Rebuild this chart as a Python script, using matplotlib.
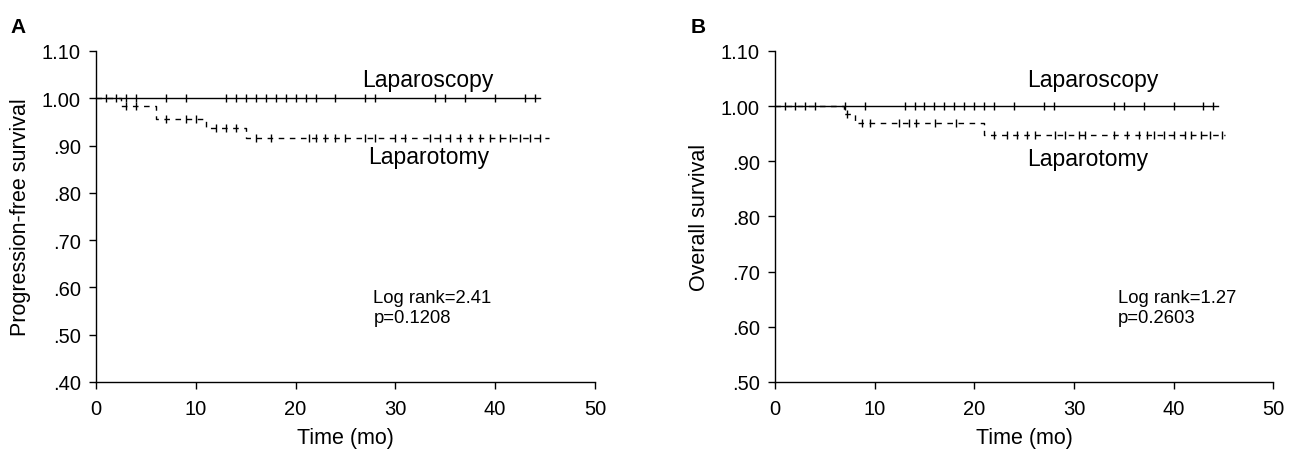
import numpy as np
import matplotlib
matplotlib.use("Agg")
import matplotlib.pyplot as plt

plt.rcParams['font.family'] = ['Liberation Sans', 'DejaVu Sans']

# ---------------- data ----------------
# Panel A: progression-free survival
A_scopy_censor = [1, 2, 3, 4, 7, 9, 13, 14, 15, 16, 17, 18, 19, 20, 21, 22, 24,
                  27, 28, 34, 35, 37, 40, 43, 44]
A_scopy_end = 44.5
A_tomy_step_t = [0, 2.5, 6, 11, 15]
A_tomy_step_s = [1.0, 0.984, 0.957, 0.938, 0.917]
A_tomy_censor = [3, 4, 7, 9, 10, 12, 13, 14, 16, 17.5, 21.3, 22, 23, 24, 25, 27,
                 28, 30, 31, 33.5, 34.5, 35.5, 36.5, 37.5, 38.5, 39.5, 40.5,
                 41.5, 42.5, 43.5, 44.5]
A_tomy_end = 45.4
A_logrank = "Log rank=2.41\np=0.1208"

# Panel B: overall survival
B_scopy_censor = [1, 2, 3, 4, 7, 9, 13, 14, 15, 16, 17, 18, 19, 20, 21, 22, 24,
                  27, 28, 34, 35, 37, 40, 43, 44]
B_scopy_end = 44.5
B_tomy_step_t = [0, 6.9, 8, 21]
B_tomy_step_s = [1.0, 0.985, 0.969, 0.948]
B_tomy_censor = [7.2, 8.7, 9.5, 12.4, 13.4, 14.1, 16.1, 18.2, 22, 23.3, 24.3,
                 25.3, 26.1, 28.1, 29.1, 30.5, 31.1, 34, 35.3, 36.5, 37.3, 38,
                 39, 40, 41.2, 41.8, 42.8, 43.7, 44.9]
B_tomy_end = 45.2
B_logrank = "Log rank=1.27\np=0.2603"

x_ticks = [0, 10, 20, 30, 40, 50]
A_yticks = [0.40, 0.50, 0.60, 0.70, 0.80, 0.90, 1.00, 1.10]
A_ylabels = [".40", ".50", ".60", ".70", ".80", ".90", "1.00", "1.10"]
B_yticks = [0.50, 0.60, 0.70, 0.80, 0.90, 1.00, 1.10]
B_ylabels = [".50", ".60", ".70", ".80", ".90", "1.00", "1.10"]


def surv_at(t, st, ss):
    idx = np.searchsorted(np.asarray(st), np.asarray(t), side='right') - 1
    return np.asarray(ss)[idx]


def draw_panel(ax, scopy_c, scopy_end, st, ss, tomy_c, tomy_end,
               yticks, ylabels, ylabel, logrank, txt):
    # laparoscopy: no events, survival 1
    ax.plot([0, scopy_end], [1.0, 1.0], color='black', lw=1.0, clip_on=False)
    ax.plot(scopy_c, np.ones(len(scopy_c)), linestyle='none', marker='|',
            ms=5.5, mew=1.0, color='black', clip_on=False)
    # laparotomy: dashed step
    tt = list(st) + [tomy_end]
    sv = list(ss) + [ss[-1]]
    ax.step(tt, sv, where='post', color='black', lw=1.0,
            linestyle=(0, (4, 4)), clip_on=False)
    ax.plot(tomy_c, surv_at(tomy_c, st, ss), linestyle='none', marker='|',
            ms=5.5, mew=1.0, color='black', clip_on=False)

    ax.set_xlim(0, 50)
    ax.set_ylim(yticks[0], yticks[-1])
    ax.set_xticks(x_ticks)
    ax.set_yticks(yticks)
    ax.set_yticklabels(ylabels)
    for s in ['top', 'right']:
        ax.spines[s].set_visible(False)
    for s in ['left', 'bottom']:
        ax.spines[s].set_linewidth(1.0)
    ax.tick_params(direction='out', length=5, width=1.0, labelsize=14.5)
    ax.tick_params(axis='x', pad=7)
    ax.tick_params(axis='y', pad=6)
    ax.set_xlabel("Time (mo)", fontsize=15.5, labelpad=7)
    ax.set_ylabel(ylabel, fontsize=15.5, labelpad=8)

    ax.text(txt[0][0], txt[0][1], "Laparoscopy", ha='center', va='center', fontsize=16.5)
    ax.text(txt[1][0], txt[1][1], "Laparotomy", ha='center', va='center', fontsize=16.5)
    ax.text(txt[2][0], txt[2][1], logrank, ha='left', va='center', fontsize=13.3,
            linespacing=1.25)


fig = plt.figure(figsize=(12.95, 4.52), dpi=100)
axA = fig.add_axes([0.0741, 0.1527, 0.3853, 0.7323])
axB = fig.add_axes([0.5985, 0.1527, 0.3846, 0.7323])

draw_panel(axA, A_scopy_censor, A_scopy_end, A_tomy_step_t, A_tomy_step_s,
           A_tomy_censor, A_tomy_end, A_yticks, A_ylabels,
           "Progression-free survival", A_logrank,
           [(33.3, 1.04), (33.3, 0.877), (27.8, 0.557)])
draw_panel(axB, B_scopy_censor, B_scopy_end, B_tomy_step_t, B_tomy_step_s,
           B_tomy_censor, B_tomy_end, B_yticks, B_ylabels,
           "Overall survival", B_logrank,
           [(31.9, 1.049), (31.4, 0.905), (34.4, 0.635)])

fig.text(0.008, 0.94, "A", fontsize=15, fontweight='bold', va='center')
fig.text(0.533, 0.94, "B", fontsize=15, fontweight='bold', va='center')

fig.savefig("out.png", dpi=100)
